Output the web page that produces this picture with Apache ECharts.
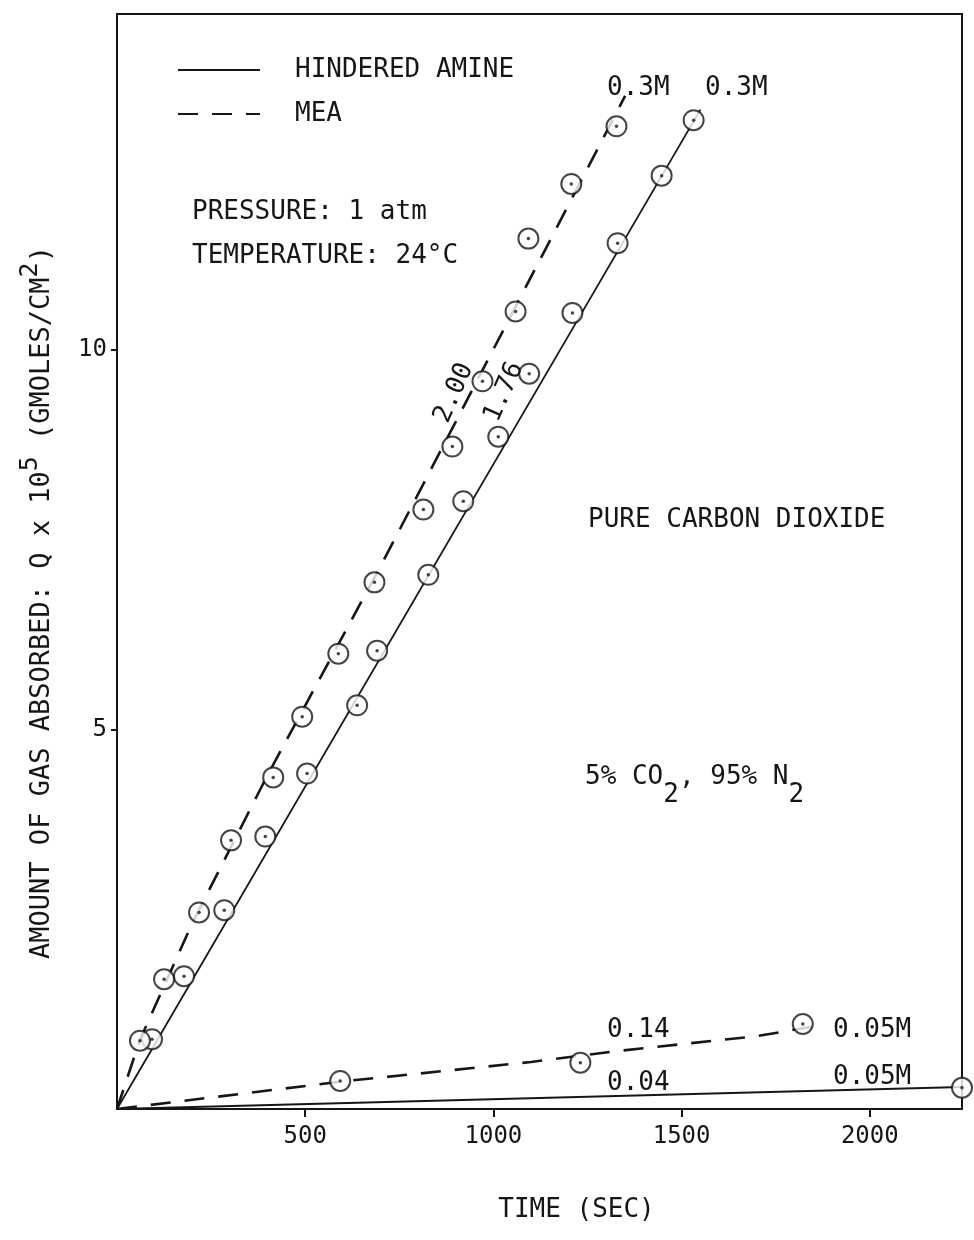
<!DOCTYPE html>
<html><head><meta charset="utf-8">
<script src="https://cdn.jsdelivr.net/npm/echarts@6/dist/echarts.min.js"></script>
<style>html,body{margin:0;padding:0;background:#fff}#c{width:974px;height:1240px}</style>
</head><body><div id="c"></div>
<script>
// ---- data (time in s, Q x 10^5 gmoles/cm^2) ----
const xTickValues = [500, 1000, 1500, 2000];
const yTickValues = [5, 10];

// measured points
const amine03Points = [[93,0.92],[178,1.75],[285,2.62],[394,3.59],[505,4.42],[638,5.32],[691,6.04],[827,7.04],[920,8.01],[1013,8.86],[1095,9.69],[1210,10.49],[1330,11.41],[1447,12.30],[1532,13.03]];
const mea03Points   = [[61,0.90],[125,1.71],[218,2.59],[303,3.54],[415,4.37],[492,5.17],[588,6.00],[684,6.94],[814,7.90],[891,8.73],[971,9.59],[1059,10.51],[1093,11.47],[1207,12.19],[1327,12.95]];
const mea005Points  = [[593,0.37],[1231,0.61],[1822,1.12]];
const amine005Points= [[2245,0.28]];

// drawn curves
const amine03Curve  = [[0,0],[1550,13.17]];
const mea03Curve    = [[0,0],[60,0.9],[200,2.45],[400,4.4],[700,7.15],[1350,13.35]];
const mea005Curve   = [[0,0],[280,0.17],[593,0.36],[1100,0.62],[1340,0.77],[1700,0.96],[1865,1.1]];
const amine005Curve = [[0,0],[2245,0.29]];

const FONT = '"DejaVu Sans Mono","Liberation Mono",monospace';
const INK = '#161616';

const chart = echarts.init(document.getElementById('c'), null, {renderer:'canvas'});

function curve(name, data, dashed) {
  return {
    name: name, type: 'line', data: data, symbol: 'none', smooth: false, z: 2,
    lineStyle: {color: INK, width: dashed ? 2.6 : 1.8, type: dashed ? [20, 14] : 'solid'},
    itemStyle: {color: INK}, silent: true
  };
}
function ring(name, data) {
  return {
    name: name, type: 'scatter', data: data, symbol: 'emptyCircle', symbolSize: 20, clip: false, z: 3,
    itemStyle: {color: INK, borderColor: INK, borderWidth: 2}, silent: true
  };
}
function dot(name, data) {
  return {
    name: name, type: 'scatter', data: data, symbol: 'circle', symbolSize: 3.5, clip: false, z: 4,
    itemStyle: {color: INK}, silent: true
  };
}

function txt(x, y, text, opts) {
  opts = opts || {};
  return {
    type: 'text', x: x, y: y, rotation: opts.rotation || 0, z: 10,
    style: Object.assign({
      text: text, fill: INK, fontFamily: FONT, fontSize: opts.fontSize || 26,
      align: opts.align || 'left', verticalAlign: opts.verticalAlign || 'middle'
    }, opts.style || {})
  };
}

const richBase = {
  n: {fontFamily: FONT, fontSize: 26, color: INK, verticalAlign: 'top'},
  s: {fontFamily: FONT, fontSize: 26, color: INK, verticalAlign: 'top', padding: [18, 0, 0, 0]}
};

chart.setOption({
  backgroundColor: '#fff',
  animation: false,
  grid: {left: 117, right: 12, top: 14, bottom: 131, show: true, borderColor: INK, borderWidth: 2, backgroundColor: 'transparent'},
  legend: {
    data: ['HINDERED AMINE', 'MEA'], orient: 'vertical', left: 172, top: 52,
    itemWidth: 82, itemHeight: 14, itemGap: 18, selectedMode: false,
    itemStyle: {opacity: 0},
    textStyle: {fontFamily: FONT, fontSize: 26, color: INK, padding: [0, 0, 0, 30]}
  },
  xAxis: {
    type: 'value', min: 0, max: 2245,
    name: 'TIME (SEC)', nameLocation: 'middle', nameGap: 88,
    nameTextStyle: {fontFamily: FONT, fontSize: 26, color: INK, padding: [0, 0, 0, 74]},
    axisLine: {show: true, lineStyle: {color: INK, width: 2}},
    axisTick: {show: true, customValues: xTickValues, length: 8, lineStyle: {color: INK, width: 2}},
    axisLabel: {show: true, customValues: xTickValues, margin: 16, fontFamily: FONT, fontSize: 24, color: INK,
      formatter: function (v) { return String(v); }},
    splitLine: {show: false}
  },
  yAxis: {
    type: 'value', min: 0, max: 14.43,
    name: '{n|AMOUNT OF GAS ABSORBED: Q x 10}{p|5}{n| (GMOLES/CM}{p|2}{n|)}',
    nameLocation: 'middle', nameGap: 62, nameRotate: 90,
    nameTextStyle: {padding: [0, 82, 0, 0], rich: {
      n: {fontFamily: FONT, fontSize: 27, color: INK, verticalAlign: 'bottom'},
      p: {fontFamily: FONT, fontSize: 25, color: INK, verticalAlign: 'bottom', padding: [0, 0, 12, 0]}
    }},
    axisLine: {show: true, lineStyle: {color: INK, width: 2}},
    axisTick: {show: true, customValues: yTickValues, length: 6, lineStyle: {color: INK, width: 2}},
    axisLabel: {show: true, customValues: yTickValues, margin: 10, fontFamily: FONT, fontSize: 24, color: INK,
      formatter: function (v) { return String(v); }},
    splitLine: {show: false}
  },
  series: [
    curve('HINDERED AMINE', amine03Curve, false),
    curve('MEA', mea03Curve, true),
    curve('MEA ', mea005Curve, true),
    curve('HINDERED AMINE ', amine005Curve, false),
    ring('amine 0.3M pts', amine03Points), dot('amine 0.3M c', amine03Points),
    ring('MEA 0.3M pts', mea03Points), dot('MEA 0.3M c', mea03Points),
    ring('MEA 0.05M pts', mea005Points), dot('MEA 0.05M c', mea005Points),
    ring('amine 0.05M pts', amine005Points), dot('amine 0.05M c', amine005Points)
  ],
  graphic: [
    txt(192, 212, 'PRESSURE: 1 atm'),
    txt(192, 256, 'TEMPERATURE: 24°C'),
    txt(607, 88, '0.3M'),
    txt(705, 88, '0.3M'),
    txt(454, 393, '2.00', {align: 'center', rotation: 66 * Math.PI / 180}),
    txt(504, 392, '1.76', {align: 'center', rotation: 66 * Math.PI / 180}),
    txt(588, 520, 'PURE CARBON DIOXIDE'),
    {type: 'text', x: 585, y: 764, z: 10, style: {
      text: '{n|5% CO}{s|2}{n|, 95% N}{s|2}', rich: richBase, fill: INK
    }},
    txt(607, 1030, '0.14'),
    txt(607, 1083, '0.04'),
    txt(833, 1030, '0.05M'),
    txt(833, 1077, '0.05M')
  ]
});
</script></body></html>
